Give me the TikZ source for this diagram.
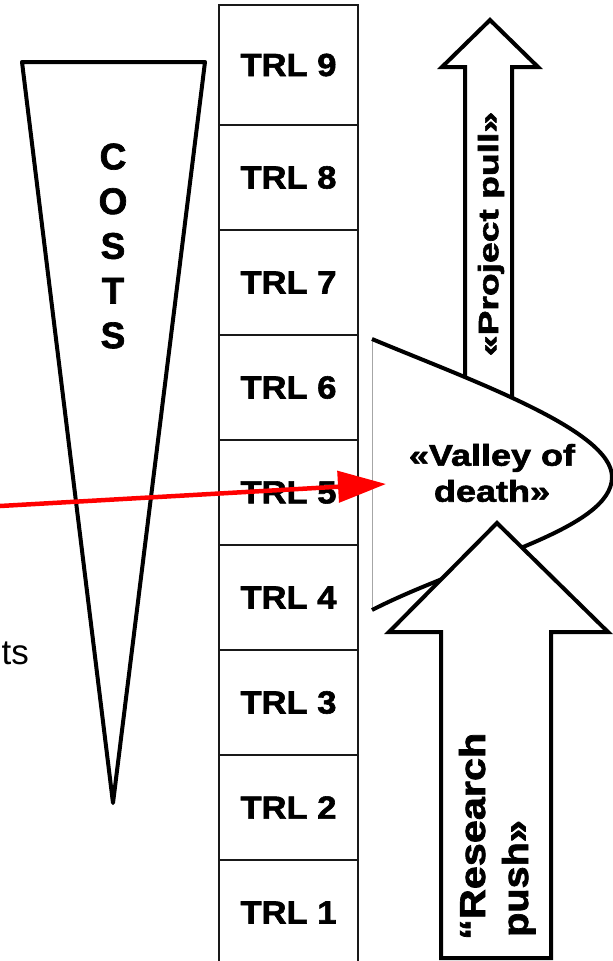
\documentclass[tikz,border=0pt]{standalone}
\usepackage{fontspec}
\setmainfont{Liberation Sans}[BoldFeatures={FakeBold=1.8}]
\usepackage{graphicx}
\usetikzlibrary{arrows.meta}
\begin{document}
\begin{tikzpicture}[x=1pt,y=-1pt,
  trlbox/.style={draw=black!90, line width=1.6pt, fill=white, minimum width=139pt, minimum height=105pt, inner sep=0pt, font=\fontsize{32}{36}\selectfont\bfseries},
  bigout/.style={draw=black, line width=4pt, fill=white, line join=miter},
  lbl/.style={inner sep=0pt, font=\bfseries}
]
\useasboundingbox (0,0) rectangle (613,961);
\fill[white] (0,0) rectangle (613,961);

% costs triangle
\draw[bigout, line join=round] (22,62) -- (205,62) -- (113,803) -- cycle;
\node[lbl, align=center, font=\fontsize{37}{44.7}\selectfont\bfseries] (costs) at (113,246) {C\\O\\S\\T\\S};

% TRL column
\node[trlbox, minimum height=120pt] (trl9) at (288.5,65) {\scalebox{1.08}[1]{TRL 9}};
\node[trlbox] (trl8) at (288.5,177.5) {\scalebox{1.08}[1]{TRL 8}};
\node[trlbox] (trl7) at (288.5,282.5) {\scalebox{1.08}[1]{TRL 7}};
\node[trlbox] (trl6) at (288.5,387.5) {\scalebox{1.08}[1]{TRL 6}};
\node[trlbox] (trl5) at (288.5,492.5) {\scalebox{1.08}[1]{TRL 5}};
\node[trlbox] (trl4) at (288.5,597.5) {\scalebox{1.08}[1]{TRL 4}};
\node[trlbox] (trl3) at (288.5,702.5) {\scalebox{1.08}[1]{TRL 3}};
\node[trlbox] (trl2) at (288.5,807.5) {\scalebox{1.08}[1]{TRL 2}};
\node[trlbox] (trl1) at (288.5,912.5) {\scalebox{1.08}[1]{TRL 1}};

% project pull arrow
\draw[bigout] (465,420) -- (465,67) -- (442,67) -- (490,20) -- (538,67) -- (512,67) -- (512,420) -- cycle;

% valley of death
\fill[white] (372,339) .. controls (470,380) and (612,430) .. (612,477) .. controls (612,530) and (470,560) .. (372,610) -- cycle;
\draw[black!35, line width=0.8pt] (372,339) -- (372,610);
\draw[line width=4pt] (372,339) .. controls (470,380) and (612,430) .. (612,477) .. controls (612,530) and (470,560) .. (372,610);

% research push arrow
\draw[bigout] (441,958) -- (441,632) -- (389,632) -- (497,523) -- (608,632) -- (551,632) -- (551,958) -- cycle;

% texts
\node[lbl, align=center, font=\fontsize{30}{36}\selectfont\bfseries] (valleytxt) at (492,473) {\scalebox{1.2}[1]{«Valley of}\\\scalebox{1.2}[1]{death»}};
\node[lbl, rotate=90, font=\fontsize{28}{30}\selectfont\bfseries] (pulltxt) at (491,234) {\scalebox{1.33}[1]{«Project pull»}};
\node[lbl, rotate=90, anchor=base west, font=\fontsize{36}{40}\selectfont\bfseries] (push1) at (485,940) {\scalebox{1.15}[1]{“Research}};
\node[lbl, rotate=90, anchor=base west, font=\fontsize{36}{40}\selectfont\bfseries] (push2) at (528,937) {\scalebox{1.1}[1]{push»}};
\node[inner sep=0pt, anchor=base east, font=\fontsize{35}{40}\selectfont] (ts) at (29,664) {ts};

% red arrow
\coordinate (rs) at (0,506);
\coordinate (re) at (386,484);
\draw[red, line width=4.5pt, -{Triangle[length=48pt,width=31pt]}] (rs) -- (re);
\end{tikzpicture}
\end{document}
